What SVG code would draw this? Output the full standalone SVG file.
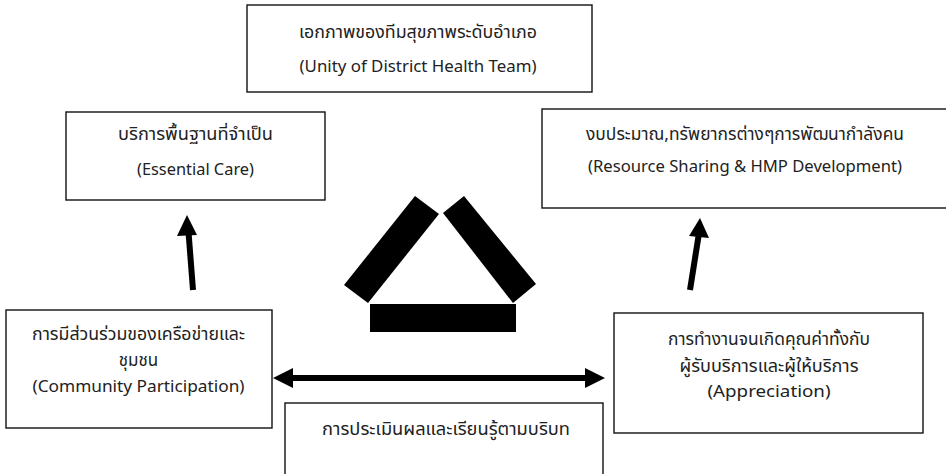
<svg xmlns="http://www.w3.org/2000/svg" width="946" height="474" viewBox="0 0 946 474">
<style>
.box{fill:#fff;stroke:#111;stroke-width:1.4}
.t{font-family:"Noto Sans","Noto Sans Thai","Leelawadee UI",sans-serif;font-size:17px;fill:#222;text-anchor:middle}
.e{font-size:16.8px}
.bar{fill:#000}
.ln{stroke:#000;stroke-width:6;fill:none}
.hd{fill:#000}
</style>
<rect width="946" height="474" fill="#fff"/>
<g id="unity">
<rect class="box" x="247" y="5" width="345" height="87"/>
<text class="t" x="418" y="38" textLength="238" lengthAdjust="spacingAndGlyphs">เอกภาพของทีมสุขภาพระดับอำเภอ</text>
<text class="t e" x="418" y="72" textLength="237" lengthAdjust="spacingAndGlyphs">(Unity of District Health Team)</text>
</g>
<g id="essential">
<rect class="box" x="66" y="112" width="259" height="88"/>
<text class="t" x="195.5" y="140" textLength="155" lengthAdjust="spacingAndGlyphs">บริการพื้นฐานที่จำเป็น</text>
<text class="t e" x="195.5" y="175" textLength="117" lengthAdjust="spacingAndGlyphs">(Essential Care)</text>
</g>
<g id="resource">
<rect class="box" x="542" y="109" width="420" height="99"/>
<text class="t" x="745" y="140" textLength="318" lengthAdjust="spacingAndGlyphs">งบประมาณ,ทรัพยากรต่างๆการพัฒนากำลังคน</text>
<text class="t e" x="745" y="172" textLength="314" lengthAdjust="spacingAndGlyphs">(Resource Sharing &amp; HMP Development)</text>
</g>
<g id="community">
<rect class="box" x="6" y="310" width="266" height="118"/>
<text class="t" x="138.5" y="340" textLength="213" lengthAdjust="spacingAndGlyphs">การมีส่วนร่วมของเครือข่ายและ</text>
<text class="t" x="138.5" y="366">ชุมชน</text>
<text class="t e" x="138.5" y="392" textLength="212" lengthAdjust="spacingAndGlyphs">(Community Participation)</text>
</g>
<g id="appreciation">
<rect class="box" x="614" y="313" width="309" height="120"/>
<text class="t" x="769" y="345" textLength="202" lengthAdjust="spacingAndGlyphs">การทำงานจนเกิดคุณค่าทั้งกับ</text>
<text class="t" x="769" y="372" textLength="179" lengthAdjust="spacingAndGlyphs">ผู้รับบริการและผู้ให้บริการ</text>
<text class="t e" x="769" y="397" textLength="123" lengthAdjust="spacingAndGlyphs">(Appreciation)</text>
</g>
<g id="evaluation">
<rect class="box" x="285" y="403" width="318" height="90"/>
<text class="t" x="446" y="435" textLength="248" lengthAdjust="spacingAndGlyphs">การประเมินผลและเรียนรู้ตามบริบท</text>
</g>
<g id="symbol">
<polygon class="bar" points="415,196 439,214 368,303 344,285"/>
<polygon class="bar" points="464,196 443,213 513,303 536,284"/>
<rect class="bar" x="370" y="304" width="146" height="28"/>
</g>
<g id="connectors">
<line class="ln" x1="193" y1="290" x2="188.5" y2="232"/>
<polygon class="hd" points="187,215 197,235 177,236"/>
<line class="ln" x1="690" y1="290" x2="698.7" y2="235"/>
<polygon class="hd" points="700,218 709,238 689,236"/>
<line class="ln" x1="290" y1="378" x2="588" y2="378"/>
<polygon class="hd" points="273,378 293,368 293,388"/>
<polygon class="hd" points="605,378 585,368 585,388"/>
</g>
</svg>
